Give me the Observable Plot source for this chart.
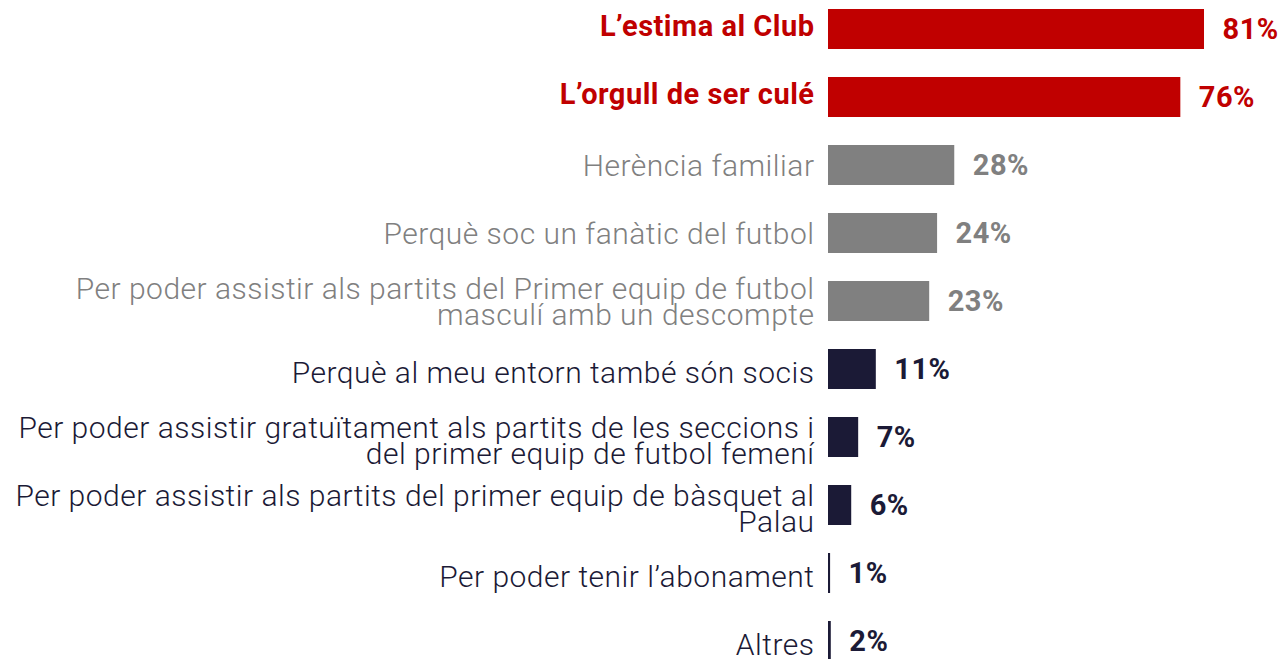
<!DOCTYPE html>
<html>
<head>
<meta charset="utf-8">
<script src="https://cdn.jsdelivr.net/npm/d3@7"></script>
<script src="https://cdn.jsdelivr.net/npm/@observablehq/plot@0.6"></script>
<style>
  html, body { margin: 0; padding: 0; background: #fff; }
  #chart svg { display: block; }
</style>
</head>
<body>
<div id="chart"></div>
<script>
const categories = [
  "L’estima al Club",
  "L’orgull de ser culé",
  "Herència familiar",
  "Perquè soc un fanàtic del futbol",
  "Per poder assistir als partits del Primer equip de futbol\nmasculí amb un descompte",
  "Perquè al meu entorn també són socis",
  "Per poder assistir gratuïtament als partits de les seccions i\ndel primer equip de futbol femení",
  "Per poder assistir als partits del primer equip de bàsquet al\nPalau",
  "Per poder tenir l’abonament",
  "Altres"
];
const values = [81, 75.9, 27.2, 23.5, 21.8, 10.3, 6.5, 5.0, 0.45, 0.6];
const valueLabels = ["81%", "76%", "28%", "24%", "23%", "11%", "7%", "6%", "1%", "2%"];
const groups = ["top", "top", "mid", "mid", "mid", "low", "low", "low", "low", "low"];
const groupColors = {top: "#c00000", mid: "#808080", low: "#1b1a36"};

const data = categories.map((c, i) => ({
  category: c, value: values[i], label: valueLabels[i], group: groups[i]
}));

const font = "Roboto, 'Noto Sans', sans-serif";
const labelMark = (group, weight, size, dy) =>
  Plot.text(data.filter(d => d.group === group), {
    x: 0, y: "category", text: "category", textAnchor: "end", dx: -14, dy,
    fill: groupColors[group], fontSize: size, fontWeight: weight, lineHeight: 0.87
  });

const chart = Plot.plot({
  width: 1281,
  height: 659,
  marginTop: 0, marginBottom: 0, marginLeft: 0, marginRight: 0,
  x: {domain: [0, 100], range: [828, 1292.2], axis: null},
  y: {domain: categories, range: [-19, 689], padding: 0.4118, round: false, axis: null},
  style: {fontFamily: font, background: "#fff", letterSpacing: "0.5px"},
  marks: [
    Plot.barX(data, {
      x: "value", y: "category",
      fill: d => groupColors[d.group]
    }),
    labelMark("top", 700, 29, -2),
    labelMark("mid", 300, 30, 2),
    labelMark("low", 300, 30, 5),
    Plot.text(data, {
      x: "value", y: "category", text: "label", textAnchor: "start", dx: 18,
      fill: d => groupColors[d.group], fontSize: 29, fontWeight: 700
    })
  ]
});
document.getElementById("chart").appendChild(chart);
</script>
</body>
</html>
